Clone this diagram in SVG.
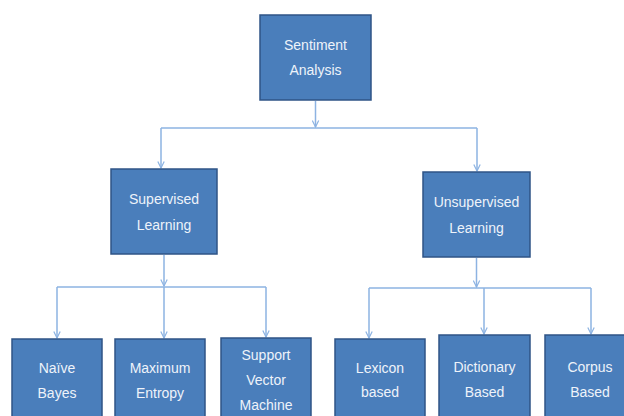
<svg xmlns="http://www.w3.org/2000/svg" width="624" height="416" viewBox="0 0 624 416">
<style>
.box{fill:#4A7EBB;stroke:#2F5486;stroke-width:1.5}
.lbl{font-family:"Liberation Sans",Arial,sans-serif;font-size:14px;fill:#EEF3FA;text-anchor:middle}
.con{fill:none;stroke:#8DB3E2;stroke-width:1.5}
</style>
<defs>
<marker id="arr" viewBox="0 0 10 10" refX="9" refY="5" markerWidth="8" markerHeight="8" markerUnits="userSpaceOnUse" orient="auto">
<polyline points="1,1 9,5 1,9" fill="none" stroke="#8DB3E2" stroke-width="1.5"/>
</marker>
</defs>
<rect width="624" height="416" fill="#FFFFFF"/>
<g id="connectors">
<path class="con" d="M315.5,101 V127" marker-end="url(#arr)"/>
<path class="con" d="M161,128 H477"/>
<path class="con" d="M161,128 V168" marker-end="url(#arr)"/>
<path class="con" d="M477,128 V171" marker-end="url(#arr)"/>
<path class="con" d="M164,255 V286" marker-end="url(#arr)"/>
<path class="con" d="M57,287 H266"/>
<path class="con" d="M57,287 V338" marker-end="url(#arr)"/>
<path class="con" d="M164,287 V338" marker-end="url(#arr)"/>
<path class="con" d="M266,287 V337" marker-end="url(#arr)"/>
<path class="con" d="M476.5,258 V287" marker-end="url(#arr)"/>
<path class="con" d="M369,288 H591"/>
<path class="con" d="M369,288 V338" marker-end="url(#arr)"/>
<path class="con" d="M484,288 V334" marker-end="url(#arr)"/>
<path class="con" d="M591,288 V334" marker-end="url(#arr)"/>
</g>
<g id="sentiment">
<rect class="box" x="260" y="15" width="111" height="85"/>
<text class="lbl" x="315.5" y="50">Sentiment</text>
<text class="lbl" x="315.5" y="75">Analysis</text>
</g>
<g id="supervised">
<rect class="box" x="111" y="169" width="106" height="85"/>
<text class="lbl" x="164" y="204">Supervised</text>
<text class="lbl" x="164" y="230">Learning</text>
</g>
<g id="unsupervised">
<rect class="box" x="423" y="172" width="107" height="85"/>
<text class="lbl" x="476.5" y="207">Unsupervised</text>
<text class="lbl" x="476.5" y="233">Learning</text>
</g>
<g id="naive">
<rect class="box" x="12" y="339" width="90" height="90"/>
<text class="lbl" x="57" y="373">Naïve</text>
<text class="lbl" x="57" y="398">Bayes</text>
</g>
<g id="maxent">
<rect class="box" x="115" y="339" width="90" height="90"/>
<text class="lbl" x="160" y="373">Maximum</text>
<text class="lbl" x="160" y="398">Entropy</text>
</g>
<g id="svm">
<rect class="box" x="221" y="338" width="90" height="90"/>
<text class="lbl" x="266" y="360">Support</text>
<text class="lbl" x="266" y="385">Vector</text>
<text class="lbl" x="266" y="410">Machine</text>
</g>
<g id="lexicon">
<rect class="box" x="335" y="339" width="90" height="90"/>
<text class="lbl" x="380" y="373">Lexicon</text>
<text class="lbl" x="380" y="397">based</text>
</g>
<g id="dictionary">
<rect class="box" x="439" y="335" width="91" height="90"/>
<text class="lbl" x="484.5" y="372">Dictionary</text>
<text class="lbl" x="484.5" y="397">Based</text>
</g>
<g id="corpus">
<rect class="box" x="545" y="335" width="90" height="90"/>
<text class="lbl" x="590" y="372">Corpus</text>
<text class="lbl" x="590" y="397">Based</text>
</g>
</svg>
